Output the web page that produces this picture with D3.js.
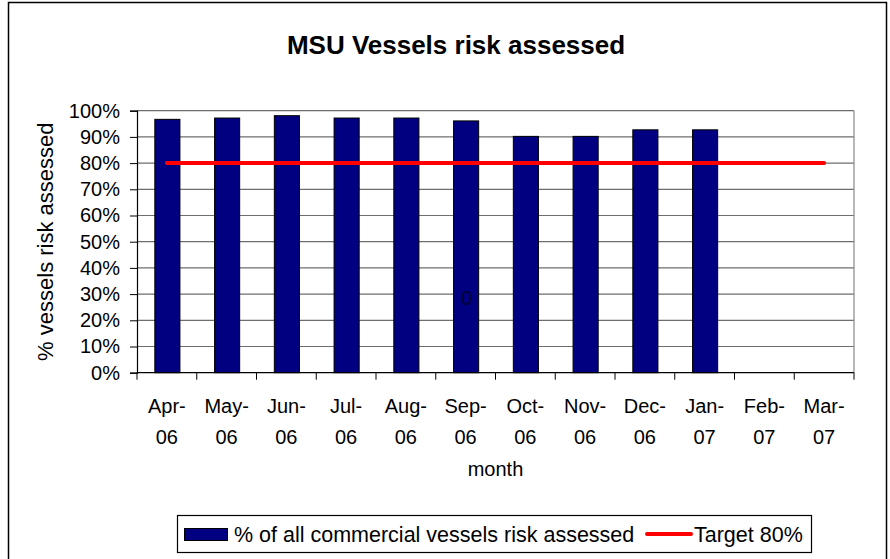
<!DOCTYPE html>
<html>
<head>
<meta charset="utf-8">
<script src="https://cdn.jsdelivr.net/npm/d3@7"></script>
<style>
  body { margin: 0; background: #fff; }
  text { font-family: "Liberation Sans", Arial, sans-serif; fill: #000; }
</style>
</head>
<body>
<div id="chart"></div>
<script>
// values
var months = ["Apr-06", "May-06", "Jun-06", "Jul-06", "Aug-06", "Sep-06",
  "Oct-06", "Nov-06", "Dec-06", "Jan-07", "Feb-07", "Mar-07"];
var assessed = [96.7, 97.2, 98.1, 97.2, 97.2, 96.1, 90.2, 90.2, 92.7, 92.7, null, null];
var target = [80, 80, 80, 80, 80, 80, 80, 80, 80, 80, 80, 80];
var yTicks = [0, 10, 20, 30, 40, 50, 60, 70, 80, 90, 100];
// stray data label left on the Sep bar
var strayLabel = { month: "Sep-06", value: 28.6, text: "0" };

var W = 890, H = 559;
var plot = { left: 137, right: 854, top: 110.7, bottom: 372.7 };

var svg = d3.select("#chart").append("svg")
  .attr("width", W)
  .attr("height", H);

// outer frame
svg.append("rect")
  .attr("x", 8.5).attr("y", 2.5)
  .attr("width", 878).attr("height", 620)
  .attr("fill", "none")
  .attr("stroke", "#000")
  .attr("stroke-width", 1.5);

var x = d3.scaleBand().domain(months).range([plot.left, plot.right]).padding(0);
var y = d3.scaleLinear().domain([0, 100]).range([plot.bottom, plot.top]);

// gridlines
svg.append("g")
  .selectAll("line")
  .data(yTicks.filter(function (d) { return d > 0; }))
  .enter()
  .append("line")
  .attr("x1", plot.left).attr("x2", plot.right)
  .attr("y1", function (d) { return y(d); })
  .attr("y2", function (d) { return y(d); })
  .attr("stroke", "#6e6e6e")
  .attr("stroke-width", 1.2);

// right border of plot area
svg.append("line")
  .attr("x1", plot.right).attr("x2", plot.right)
  .attr("y1", plot.top).attr("y2", plot.bottom)
  .attr("stroke", "#888")
  .attr("stroke-width", 1.2);

// bars
var barW = x.bandwidth() * 0.42;
svg.append("g")
  .selectAll("rect")
  .data(months.map(function (m, i) { return { m: m, v: assessed[i] }; })
    .filter(function (d) { return d.v != null; }))
  .enter()
  .append("rect")
  .attr("x", function (d) { return x(d.m) + x.bandwidth() / 2 - barW / 2 + 0.5; })
  .attr("y", function (d) { return y(d.v); })
  .attr("width", barW)
  .attr("height", function (d) { return y(0) - y(d.v); })
  .attr("fill", "#000080")
  .attr("stroke", "#000")
  .attr("stroke-width", 1);

// y axis
var yAxis = svg.append("g")
  .attr("transform", "translate(" + plot.left + ",0)")
  .call(d3.axisLeft(y).tickValues(yTicks).tickSize(7).tickPadding(10)
    .tickFormat(function (d) { return d + "%"; }));
yAxis.select(".domain").attr("stroke", "#000").attr("stroke-width", 1.2);
yAxis.selectAll(".tick line").attr("stroke", "#000");
yAxis.selectAll(".tick text")
  .style("font-size", "20px")
  .attr("font-family", null)
  .attr("fill", "#000");

// x axis: ticks at category boundaries
svg.append("line")
  .attr("x1", plot.left).attr("x2", plot.right)
  .attr("y1", plot.bottom).attr("y2", plot.bottom)
  .attr("stroke", "#000")
  .attr("stroke-width", 1.2);
svg.append("g")
  .selectAll("line")
  .data(months.concat(["end"]))
  .enter()
  .append("line")
  .attr("x1", function (d, i) { return plot.left + i * x.bandwidth(); })
  .attr("x2", function (d, i) { return plot.left + i * x.bandwidth(); })
  .attr("y1", plot.bottom)
  .attr("y2", plot.bottom + 7)
  .attr("stroke", "#000");

var xl = svg.append("g")
  .selectAll("text")
  .data(months)
  .enter()
  .append("text")
  .attr("text-anchor", "middle")
  .style("font-size", "20px");
xl.append("tspan")
  .attr("x", function (d) { return x(d) + x.bandwidth() / 2; })
  .attr("y", 413)
  .text(function (d) { return d.split("-")[0] + "-"; });
xl.append("tspan")
  .attr("x", function (d) { return x(d) + x.bandwidth() / 2; })
  .attr("y", 444)
  .text(function (d) { return d.split("-")[1]; });

// target line
svg.append("path")
  .datum(target)
  .attr("fill", "none")
  .attr("stroke", "#ff0000")
  .attr("stroke-width", 4)
  .attr("stroke-linecap", "round")
  .attr("d", d3.line()
    .x(function (d, i) { return x(months[i]) + x.bandwidth() / 2; })
    .y(function (d) { return y(d); }));

// stray label
svg.append("text")
  .attr("x", x(strayLabel.month) + x.bandwidth() / 2 + 1)
  .attr("y", y(strayLabel.value) + 7)
  .attr("text-anchor", "middle")
  .style("font-size", "20px")
  .style("fill", "#000033")
  .text(strayLabel.text);

// titles
svg.append("text")
  .attr("x", 456)
  .attr("y", 54)
  .attr("text-anchor", "middle")
  .style("font-size", "26px")
  .style("font-weight", "bold")
  .text("MSU Vessels risk assessed");

svg.append("text")
  .attr("x", (plot.left + plot.right) / 2)
  .attr("y", 476)
  .attr("text-anchor", "middle")
  .style("font-size", "20px")
  .text("month");

svg.append("text")
  .attr("transform", "translate(53," + (plot.top + plot.bottom) / 2 + ") rotate(-90)")
  .attr("text-anchor", "middle")
  .style("font-size", "22px")
  .text("% vessels risk assessed");

// legend
var lg = svg.append("g");
lg.append("rect")
  .attr("x", 177.5).attr("y", 515.5)
  .attr("width", 634).attr("height", 37)
  .attr("fill", "#fff")
  .attr("stroke", "#000")
  .attr("stroke-width", 1.2);
lg.append("rect")
  .attr("x", 184.5).attr("y", 528.5)
  .attr("width", 43).attr("height", 12)
  .attr("fill", "#000080")
  .attr("stroke", "#000");
lg.append("text")
  .attr("x", 234).attr("y", 542)
  .style("font-size", "21.5px")
  .text("% of all commercial vessels risk assessed");
lg.append("line")
  .attr("x1", 647).attr("x2", 691)
  .attr("y1", 534).attr("y2", 534)
  .attr("stroke", "#ff0000")
  .attr("stroke-width", 4)
  .attr("stroke-linecap", "round");
lg.append("text")
  .attr("x", 694).attr("y", 542)
  .style("font-size", "21.5px")
  .text("Target 80%");
</script>
</body>
</html>
